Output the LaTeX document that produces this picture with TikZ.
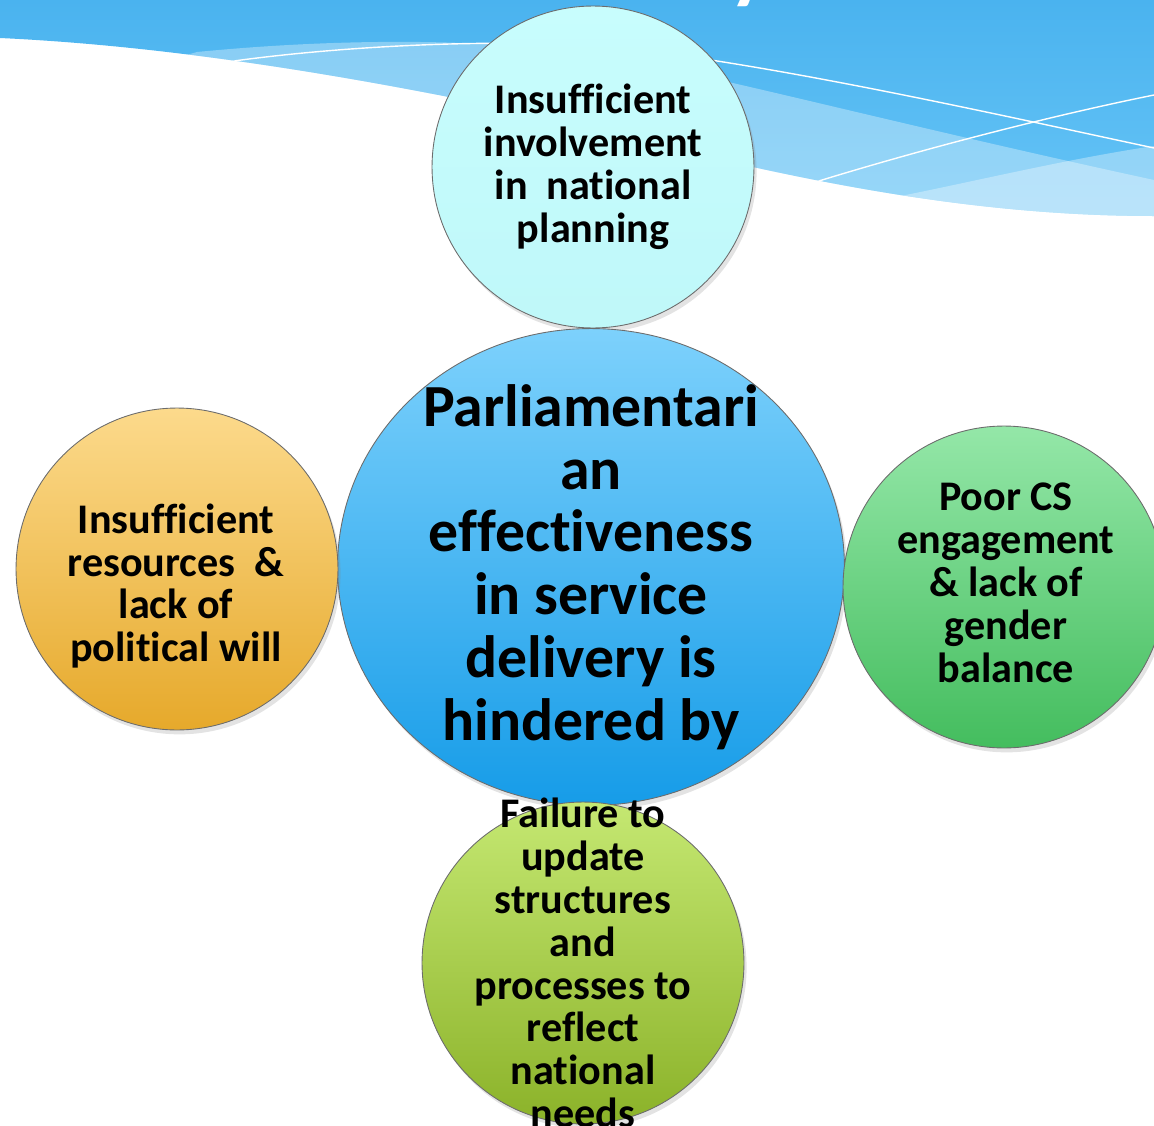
\documentclass[tikz,border=0pt]{standalone}
\usepackage{fontspec}
\setmainfont{Carlito}[Ligatures={NoCommon,NoContextual}]
\usetikzlibrary{shapes.geometric,shadows}

\definecolor{headTop}{HTML}{4AB3EF}
\definecolor{headBottom}{HTML}{66C4F6}
\definecolor{planA}{HTML}{C8FDFD}
\definecolor{planB}{HTML}{BFF8F9}
\definecolor{hubA}{HTML}{7DD1FC}
\definecolor{hubB}{HTML}{169CE8}
\definecolor{resA}{HTML}{FCDA8C}
\definecolor{resB}{HTML}{E6A92B}
\definecolor{engA}{HTML}{94E7A8}
\definecolor{engB}{HTML}{44BD5E}
\definecolor{strA}{HTML}{C5E872}
\definecolor{strB}{HTML}{8BB229}

\tikzset{
  bubble/.style={circle, draw=gray!85!black, line width=0.5pt, inner sep=0pt,
    minimum size=6.44cm,
    drop shadow={shadow xshift=1.5pt, shadow yshift=-2.5pt, opacity=.22}},
  hub/.style={ellipse, draw=gray!85!black, line width=0.5pt, inner sep=0pt,
    minimum width=10.14cm, minimum height=9.54cm,
    drop shadow={shadow xshift=1.5pt, shadow yshift=-2.5pt, opacity=.22}},
  bubbletext/.style={align=center, text=black,
    font=\fontsize{24}{24.4}\selectfont\bfseries},
  hubtext/.style={align=center, text=black,
    font=\fontsize{34}{35.7}\selectfont\bfseries},
  waveline/.style={white, line width=0.8pt},
}

\begin{document}
\begin{tikzpicture}[x=0.02cm, y=-0.02cm]
    \useasboundingbox (0,0) rectangle (1154,1126);

    % Header wave
    \begin{scope}
        \clip (0,0) -- (1154,0) -- (1154,216)
            .. controls (950,216) and (760,172) .. (560,120)
            .. controls (330,70) and (150,45) .. (0,38) -- cycle;
        \shade[top color=headTop, bottom color=headBottom] (0,0) rectangle (1154,216);
        \fill[white, opacity=.33] (100,80) -- (197,52)
            .. controls (320,40) and (470,36) .. (600,55)
            .. controls (700,72) and (900,125) .. (1154,180)
            -- (1154,300) -- (100,300) -- cycle;
        \fill[white, opacity=.33] (880,200)
            .. controls (960,185) and (1060,160) .. (1154,146)
            -- (1154,300) -- (880,300) -- cycle;
        \draw[waveline] (200,66) .. controls (330,45) and (520,36) .. (640,50)
            .. controls (800,70) and (1000,115) .. (1154,148);
        \draw[waveline] (790,190) .. controls (900,155) and (1040,118) .. (1154,95);
    \end{scope}

    % Title (only its tail shows)
    \node[anchor=base west, text=white, font=\fontsize{48}{48}\selectfont\bfseries]
        (titleY) at (723,-7) {y};

    % Top
    \node[bubble, top color=planA, bottom color=planB] (planning) at (593,167) {};
    \node[bubbletext] (planningText) at (planning) {Insufficient\\involvement\\in~~national\\planning};

    % Centre
    \node[hub, top color=hubA, bottom color=hubB] (hub) at (591,567) {};
    \node[hubtext] (hubText) at (hub) {Parliamentari\\an\\effectiveness\\in service\\delivery is\\hindered by};

    % Left
    \node[bubble, top color=resA, bottom color=resB] (resources) at (177,569) {};
    \node[bubbletext] (resourcesText) at (176,586) {Insufficient\\resources~~\&\\lack of\\political will};

    % Right
    \node[bubble, top color=engA, bottom color=engB] (engagement) at (1004,587) {};
    \node[bubbletext] (engagementText) at (1006,583) {Poor CS\\engagement\\\& lack of\\gender\\balance};

    % Bottom
    \node[bubble, top color=strA, bottom color=strB] (structures) at (583,963) {};
    \node[bubbletext] (structuresText) at (structures) {Failure to\\update\\structures\\and\\processes to\\reflect\\national\\needs};
\end{tikzpicture}
\end{document}
